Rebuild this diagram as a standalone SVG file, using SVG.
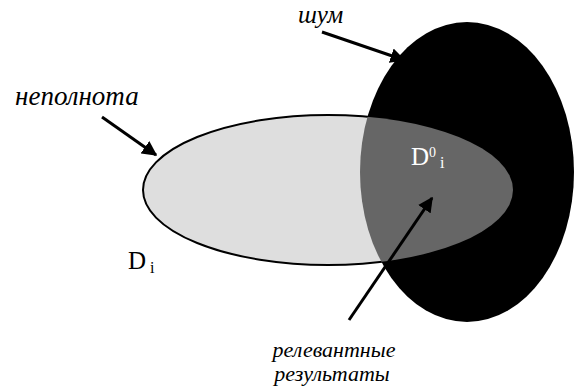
<svg xmlns="http://www.w3.org/2000/svg" width="574" height="387" viewBox="0 0 574 387">
<defs>
<marker id="ah" viewBox="0 0 10 10" refX="9" refY="5" markerWidth="5" markerHeight="5" orient="auto" markerUnits="strokeWidth">
<path d="M0,0 L10,5 L0,10 Z" fill="#000"/>
</marker>
<clipPath id="clipBlack"><ellipse cx="467" cy="172" rx="107" ry="150"/></clipPath>
</defs>
<rect width="574" height="387" fill="#fff"/>
<g id="noise">
<ellipse cx="467" cy="172" rx="107" ry="150" fill="#000"/>
</g>
<g id="Di">
<ellipse cx="328" cy="190" rx="185" ry="75" fill="#dedede" stroke="#000" stroke-width="2"/>
</g>
<g id="D0i">
<ellipse cx="328" cy="190" rx="185" ry="75" fill="#666" clip-path="url(#clipBlack)"/>
<text x="411" y="165" font-family="Liberation Serif" font-size="25" fill="#fff">D<tspan font-size="14" dy="-8">0</tspan><tspan font-size="16" dy="11"> i</tspan></text>
</g>
<g id="labels">
<text x="298" y="23" font-family="Liberation Serif" font-style="italic" font-size="25">шум</text>
<text x="15" y="105" font-family="Liberation Serif" font-style="italic" font-size="27">неполнота</text>
<text x="334" y="357" font-family="Liberation Serif" font-style="italic" font-size="22" text-anchor="middle">релевантные</text>
<text x="332" y="381" font-family="Liberation Serif" font-style="italic" font-size="22" text-anchor="middle">результаты</text>
</g>
<g id="Di-label">
<text x="128" y="269" font-family="Liberation Serif" font-size="25">D<tspan font-size="16" dy="4"> i</tspan></text>
</g>
<g id="connectors">
<line x1="322" y1="32" x2="404" y2="60" stroke="#000" stroke-width="3" marker-end="url(#ah)"/>
<line x1="102" y1="117" x2="156" y2="155" stroke="#000" stroke-width="3" marker-end="url(#ah)"/>
<line x1="349" y1="320" x2="432" y2="198" stroke="#000" stroke-width="3" marker-end="url(#ah)"/>
</g>
</svg>
